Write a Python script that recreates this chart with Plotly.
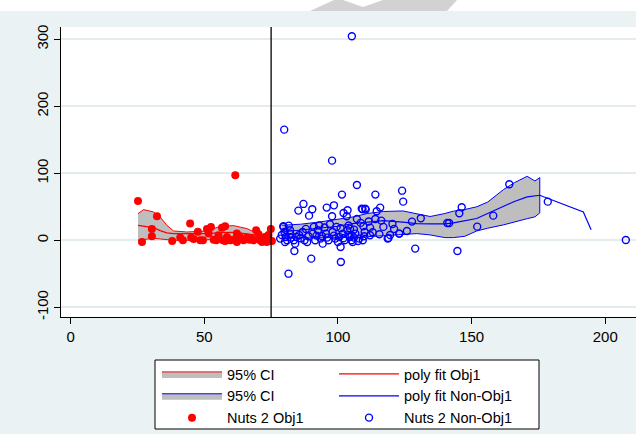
import plotly.graph_objects as go

# ---------------- data ----------------
red_x = [25.2, 26.7, 30.4, 30.4, 32.3, 38.0, 41.0, 42.0, 44.7, 45.1, 46.0, 47.6, 48.5, 49.5,
         51.0, 52.5, 51.6, 53.5, 54.5, 55.3, 56.6, 57.8, 57.0, 57.8, 58.5, 59.7, 60.9, 61.6,
         62.2, 62.2, 63.2, 64.7, 65.9, 66.9, 67.5, 68.4, 69.4, 70.3, 70.9, 71.6, 72.8, 73.4,
         74.0, 74.9, 75.3]
red_y = [58.7, -2.5, 16.9, 6.0, 35.8, -1.0, 4.0, 0.0, 24.9, 4.0, 2.0, 12.9, 0.0, 0.0,
         16.9, 19.9, 10.0, 1.0, 0.0, 7.5, 18.9, 20.9, 0.0, -1.0, 5.0, 0.0, 1.0, 97.0,
         10.0, -2.5, 6.0, 0.0, 4.0, 1.0, 3.0, 0.0, 14.9, 9.0, 0.0, -2.5, 5.0, -2.5,
         8.0, 16.9, -1.0]

blue_x = [105.2, 79.9, 97.8, 107.1, 101.5, 114.0, 124.0, 124.4, 87.1, 85.2, 90.4, 89.2,
          95.8, 98.5, 97.8, 102.1, 103.6, 103.3, 109.2, 110.4, 114.5, 115.8, 107.1, 114.0,
          116.2, 120.4, 127.7, 131.0, 146.3, 145.4, 141.6, 152.1, 158.1, 164.1, 178.5, 207.7,
          128.9, 144.7, 125.8, 123.0, 118.6, 118.9, 112.0, 109.8, 112.0, 109.5, 101.1, 101.0,
          90.0, 83.7, 81.5, 79.6, 81.6, 78.4, 80.2, 82.1, 79.6, 80.0, 80.5, 82.1, 83.5, 84.5,
          86.8, 87.5, 88.5, 90.6, 91.5, 92.5, 93.5, 94.3, 95.5, 96.5, 98.0, 99.0, 100.0,
          101.8, 102.5, 103.5, 104.5, 105.5, 106.5, 108.0, 109.3, 110.0, 85.5, 88.0, 91.0,
          93.0, 95.0, 97.0, 99.5, 101.0, 104.0, 106.0, 108.5, 111.5, 113.0, 115.5, 117.0,
          119.5, 121.0, 84.0, 86.0, 89.0, 92.0, 94.0, 96.0, 98.5, 100.5, 102.0, 104.0, 106.0,
          107.5, 79.0, 81.0, 82.5, 108.9, 110.2, 104.5, 105.1, 105.1, 140.9, 122.9]
blue_y = [304.5, 165.2, 118.9, 82.6, 68.2, 68.2, 74.1, 57.7, 54.3, 44.3, 46.3, 36.8,
          48.8, 52.2, 35.8, 40.8, 44.8, 35.8, 46.3, 45.8, 43.3, 48.8, 31.8, 31.8,
          29.4, 24.4, 27.9, 32.8, 49.3, 40.3, 25.9, 20.4, 36.8, 83.6, 57.7, 0.5,
          -12.4, -15.9, 13.9, 10.0, 2.5, 3.5, 7.5, 6.0, 18.9, 20.9, -32.3, -9.9,
          -27.4, -15.9, -49.8, 20.0, 21.9, 2.5, -2.5, 10.0, 20.9, 12.4, 5.0, 14.9, 0.0, 5.0,
          12.4, 0.0, -2.5, 10.0, 0.0, 14.9, 2.5, -5.0, 10.0, 0.0, 12.4, 2.5, -2.5,
          10.0, 0.0, 14.9, 5.0, -2.5, 10.0, 2.5, 0.0, 12.4, 8.0, 17.0, 20.0,
          22.0, 19.0, 24.0, 20.0, 18.0, 22.0, 16.0, 26.0, 28.0, 12.0, 9.0, 20.0,
          8.0, 17.0, -5.0, 3.0, 6.0, 7.0, 6.5, 4.0, 7.0, 5.0, 3.0, 8.0, 4.0,
          -1.0, 8.0, 0.0, 4.0, 47.3, 47.3, 17.4, 7.5, 0.0, 25.9, 10.0]

red_band_x = [25.2, 27.3, 31.0, 33.5, 36.0, 38.5, 43.5, 51.0, 56.0, 61.0, 66.0, 70.0, 75.0]
red_upper = [39.8, 45.8, 42.3, 34.8, 22.4, 13.9, 12.4, 13.9, 20.9, 21.9, 17.4, 10.0, 7.5]
red_fit = [22.4, 21.5, 18.9, 14.5, 11.0, 10.0, 10.0, 10.0, 11.5, 12.0, 9.5, 7.0, 5.0]
red_lower = [0.0, 1.0, 3.0, 2.0, 0.5, 0.0, 0.0, 0.5, 1.5, 1.5, 1.0, 0.0, -1.0]

blue_band_x = [78.9, 86.0, 93.2, 100.0, 105.6, 111.0, 117.0, 124.3, 129.5, 134.5, 140.0,
               143.2, 147.5, 151.9, 156.0, 161.9, 166.0, 170.8, 173.7, 175.5]
blue_upper = [22.4, 24.0, 27.4, 31.0, 34.8, 40.0, 43.0, 43.8, 39.8, 35.5, 40.0,
              43.5, 46.0, 50.0, 57.0, 75.6, 86.0, 95.5, 88.6, 93.6]
blue_lower = [2.5, 3.5, 4.0, 4.0, 4.0, 5.5, 7.5, 8.5, 10.0, 8.0, 4.0,
              4.0, 6.0, 13.9, 18.0, 23.0, 27.0, 32.3, 35.0, 40.8]
blue_fit_x = [78.9, 86.0, 93.2, 100.0, 105.6, 111.0, 117.0, 124.3, 129.5, 134.5, 140.0,
              143.2, 147.5, 151.9, 156.0, 161.9, 166.0, 170.8, 173.7, 175.5, 191.8, 194.7]
blue_fit_y = [12.4, 15.0, 17.4, 21.0, 24.9, 27.5, 29.5, 27.0, 24.9, 24.5, 24.5,
              26.0, 29.0, 32.5, 40.0, 51.0, 58.0, 64.7, 66.5, 67.2, 42.3, 15.9]

threshold_x = 75
x_ticks = [0, 50, 100, 150, 200]
y_ticks = [-100, 0, 100, 200, 300]
y_tick_labels = ["-100", "0", "100", "200", "300"]

# ---------------- styles ----------------
RED = "#FF0000"
BLUE = "#0000FF"
BAND = "#BEBEBE"
BG = "#EAF2F3"
GRID = "#E4ECEE"
FONT = "Liberation Sans, Arial, sans-serif"

W, H = 636, 434
ML, MR, MT, MB = 61, 0, 27, 117
PW, PH = W - ML - MR, H - MT - MB


def px_x(X):
    return (X - ML) / PW


def px_y(Y):
    return (H - MB - Y) / PH


fig = go.Figure()

fig.add_trace(go.Scatter(
    x=red_band_x + red_band_x[::-1], y=red_upper + red_lower[::-1],
    fill="toself", fillcolor=BAND, mode="lines", line=dict(color=RED, width=1),
    name="95% CI", legend="legend", legendrank=1, hoverinfo="skip"))
fig.add_trace(go.Scatter(
    x=blue_band_x + blue_band_x[::-1], y=blue_upper + blue_lower[::-1],
    fill="toself", fillcolor=BAND, mode="lines", line=dict(color=BLUE, width=1),
    name="95% CI", legend="legend", legendrank=2, hoverinfo="skip"))
fig.add_trace(go.Scatter(
    x=red_band_x, y=red_fit, mode="lines", line=dict(color=RED, width=1.2),
    name="poly fit Obj1", legend="legend2", legendrank=1))
fig.add_trace(go.Scatter(
    x=blue_fit_x, y=blue_fit_y, mode="lines", line=dict(color=BLUE, width=1.2),
    name="poly fit Non-Obj1", legend="legend2", legendrank=2))
fig.add_trace(go.Scatter(
    x=red_x, y=red_y, mode="markers",
    marker=dict(color=RED, size=8, line=dict(width=0)),
    name="Nuts 2 Obj1", legend="legend", legendrank=3))
fig.add_trace(go.Scatter(
    x=blue_x, y=blue_y, mode="markers",
    marker=dict(symbol="circle-open", color=BLUE, size=7, line=dict(width=1.4)),
    name="Nuts 2 Non-Obj1", legend="legend2", legendrank=3))

fig.add_vline(x=threshold_x, line=dict(color="black", width=1.3), layer="above")

legend_common = dict(
    orientation="v", yanchor="top", xanchor="left",
    bgcolor="rgba(0,0,0,0)", borderwidth=0,
    itemwidth=60, traceorder="normal", font=dict(family=FONT, size=14.5),
    tracegroupgap=0,
)


def poly_path(points):
    return "M " + " L ".join(f"{px_x(a):.4f},{px_y(b):.4f}" for a, b in points) + " Z"


fig.update_layout(
    width=W, height=H,
    margin=dict(l=ML, r=MR, t=MT, b=MB, autoexpand=False),
    paper_bgcolor=BG, plot_bgcolor="white",
    font=dict(family=FONT, size=15, color="black"),
    showlegend=True,
    legend=dict(x=px_x(157), y=px_y(358), **legend_common),
    legend2=dict(x=px_x(334), y=px_y(358), **legend_common),
    shapes=[
        # white page outside the graph region
        dict(type="rect", xref="paper", yref="paper", x0=-0.3, x1=px_x(13), y0=-0.6, y1=1.3,
             fillcolor="white", line=dict(width=0), layer="below"),
        dict(type="rect", xref="paper", yref="paper", x0=-0.3, x1=1.2, y0=px_y(11), y1=1.3,
             fillcolor="white", line=dict(width=0), layer="below"),
        # light grey mark at the top edge
        dict(type="path", xref="paper", yref="paper",
             path=poly_path([(310, 11), (334, 0), (457, 0), (447, 11)]),
             fillcolor="#D2D2D2", line=dict(width=0), layer="below"),
        dict(type="path", xref="paper", yref="paper",
             path=poly_path([(343, 0), (383, 0), (363, 7)]),
             fillcolor="white", line=dict(width=0), layer="below"),
        # legend frame
        dict(type="rect", xref="paper", yref="paper", x0=px_x(155), x1=px_x(539),
             y0=px_y(429), y1=px_y(360), fillcolor="white",
             line=dict(color="black", width=1), layer="below"),
    ],
)

fig.update_xaxes(
    range=[-3.6, 211.5], tickvals=x_ticks, showgrid=False, zeroline=False,
    showline=True, linecolor="black", linewidth=1,
    ticks="outside", ticklen=6, tickcolor="black", tickwidth=1,
    tickfont=dict(family=FONT, size=15),
)
fig.update_yaxes(
    range=[-114.5, 318.4], tickvals=y_ticks, ticktext=y_tick_labels,
    showgrid=True, gridcolor=GRID, gridwidth=1.5,
    zeroline=False, showline=True, linecolor="black", linewidth=1,
    ticks="outside", ticklen=6, tickcolor="black", tickwidth=1, tickangle=-90,
    tickfont=dict(family=FONT, size=15),
)

fig.write_html("out.html")
